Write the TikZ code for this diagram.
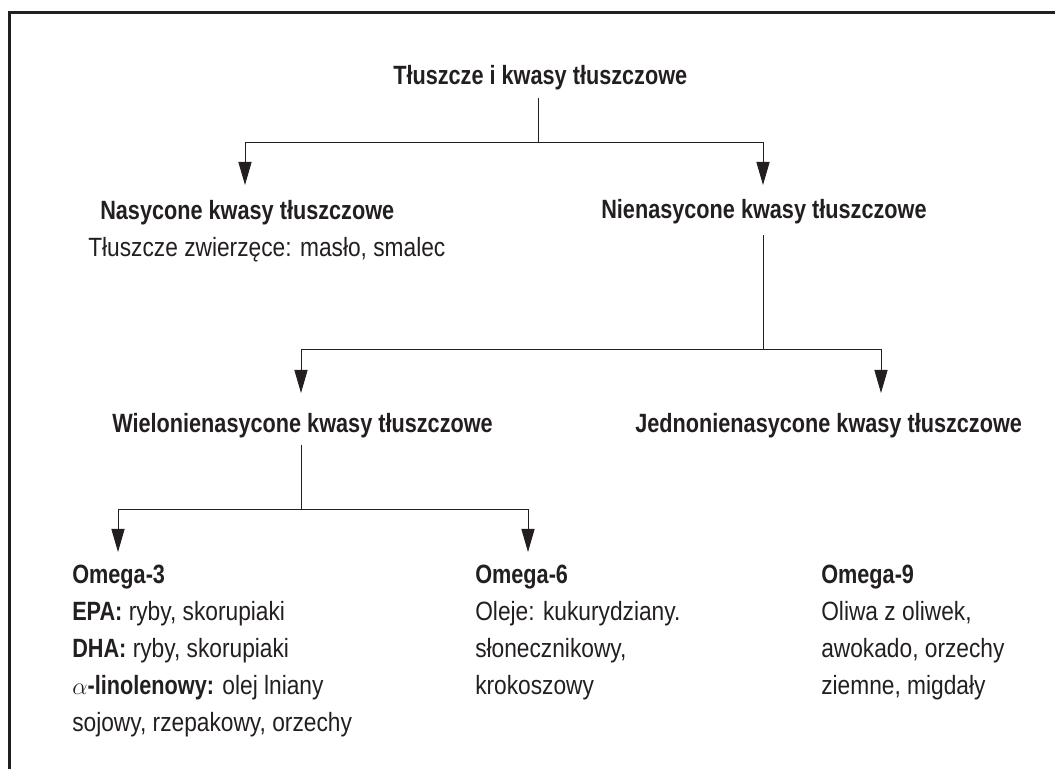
\documentclass[tikz,border=0pt]{standalone}
\usepackage{fontspec}
\setmainfont{Liberation Sans}[FakeStretch=0.86, BoldFeatures={FakeStretch=0.82}]
\usetikzlibrary{arrows.meta}
\usepackage{xcolor}
\definecolor{ink}{HTML}{231F20}

\begin{document}
\begin{tikzpicture}[x=0.025cm, y=-0.025cm,
  txt/.style={anchor=base west, inner sep=0pt, align=left, text=ink, font=\fontsize{18.8}{26.3}\selectfont},
  head/.style={txt, font=\fontsize{18.8}{26.3}\selectfont\bfseries},
  link/.style={draw=ink, line width=0.7pt},
  arr/.style={link, -{Triangle[length=5.8mm, width=3.3mm]}}
]
  \useasboundingbox (0,0) rectangle (1055,769);
  % frame, only top and left edges show
  \draw[ink, line width=1.9pt, line join=miter] (9.5,769) -- (9.5,12.5) -- (1055,12.5);

  % headings
  \node[head] (title) at (393,84) {Tłuszcze i kwasy tłuszczowe};
  \node[head] (nas) at (100,219) {Nasycone kwasy tłuszczowe};
  \node[txt] (nasdesc) at (88,256) {Tłuszcze zwierzęce: masło, smalec};
  \node[head] (nien) at (601,218) {Nienasycone kwasy tłuszczowe};
  \node[head] (wielo) at (112,432) {Wielonienasycone kwasy tłuszczowe};
  \node[head] (jedno) at (635,432) {Jednonienasycone kwasy tłuszczowe};

  % omega groups (base = last line)
  \node[txt] (om3) at (72,731) {\textbf{Omega-3}\\\textbf{EPA:} ryby, skorupiaki\\\textbf{DHA:} ryby, skorupiaki\\$\alpha$\textbf{-linolenowy:} olej lniany\\sojowy, rzepakowy, orzechy};
  \node[txt] (om6) at (475,694) {\textbf{Omega-6}\\Oleje: kukurydziany.\\słonecznikowy,\\krokoszowy};
  \node[txt] (om9) at (821,694) {\textbf{Omega-9}\\Oliwa z oliwek,\\awokado, orzechy\\ziemne, migdały};

  % branch points and arrow ends
  \coordinate (k1) at (538,142);
  \coordinate (in-nas) at (245,185);
  \coordinate (in-nien) at (763,185);
  \coordinate (k2) at (763,349);
  \coordinate (in-wielo) at (301,393);
  \coordinate (in-jedno) at (881,393);
  \coordinate (k3) at (301,509);
  \coordinate (in-om3) at (118,552);
  \coordinate (in-om6) at (528,552);

  \draw[arr, shorten <=5.5pt] (title.south -| k1) -- (k1) -| (in-nas);
  \draw[arr] (k1) -| (in-nien);
  \draw[arr, shorten <=8.3pt] (nien.south -| k2) -- (k2) -| (in-wielo);
  \draw[arr] (k2) -| (in-jedno);
  \draw[arr, shorten <=4.8pt] (wielo.south -| k3) -- (k3) -| (in-om3);
  \draw[arr] (k3) -| (in-om6);
\end{tikzpicture}
\end{document}
